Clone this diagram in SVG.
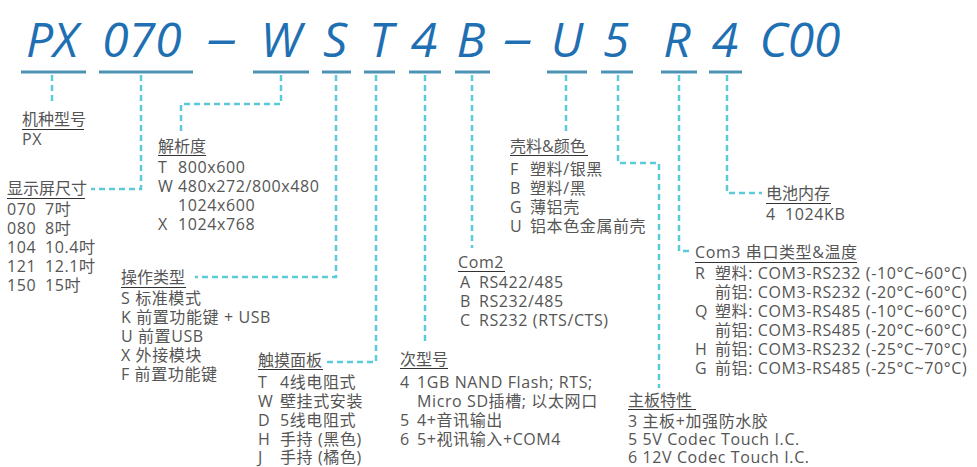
<svg xmlns="http://www.w3.org/2000/svg" width="977" height="467" viewBox="0 0 977 467">
<style>
.code{font-family:"Open Sans","Noto Sans",sans-serif;font-style:italic;font-size:48px;fill:#1f70b3;text-anchor:middle}
.ul{stroke:#4d93b6;stroke-width:3}
.dash{fill:none;stroke:#5ccbd9;stroke-width:2.5;stroke-dasharray:6 4}
.t{font-family:"Open Sans","Noto Sans","Noto Sans CJK SC",sans-serif;font-size:16px;letter-spacing:0.6px;fill:#555}
.t.lbl{letter-spacing:0}
.lu{stroke:#333;stroke-width:1}
</style>
<rect width="977" height="467" fill="#fff"/>
<g id="code">
<text class="code" x="52" y="57">PX</text>
<text class="code" x="142" y="57">070</text>
<text class="code" x="222" y="55" textLength="31" lengthAdjust="spacingAndGlyphs">–</text>
<text class="code" x="281" y="57">W</text>
<text class="code" x="335" y="57">S</text>
<text class="code" x="381" y="57">T</text>
<text class="code" x="424" y="57">4</text>
<text class="code" x="471" y="57">B</text>
<text class="code" x="518" y="55" textLength="30" lengthAdjust="spacingAndGlyphs">–</text>
<text class="code" x="567" y="57">U</text>
<text class="code" x="616" y="57">5</text>
<text class="code" x="677" y="57">R</text>
<text class="code" x="725" y="57">4</text>
<text class="code" x="800" y="57">C00</text>
<line class="ul" x1="21" y1="72" x2="86" y2="72"/>
<line class="ul" x1="99" y1="72" x2="193" y2="72"/>
<line class="ul" x1="253" y1="72" x2="309" y2="72"/>
<line class="ul" x1="322" y1="72" x2="351" y2="72"/>
<line class="ul" x1="364" y1="72" x2="395" y2="72"/>
<line class="ul" x1="409" y1="72" x2="441" y2="72"/>
<line class="ul" x1="455" y1="72" x2="490" y2="72"/>
<line class="ul" x1="547" y1="72" x2="587" y2="72"/>
<line class="ul" x1="601" y1="72" x2="633" y2="72"/>
<line class="ul" x1="661" y1="72" x2="697" y2="72"/>
<line class="ul" x1="709" y1="72" x2="742" y2="72"/>
</g>
<g id="connectors">
<path class="dash" d="M52 75V104"/>
<path class="dash" d="M141 75V189H91"/>
<path class="dash" d="M281 75V104H181V133"/>
<path class="dash" d="M336 75V277H195"/>
<path class="dash" d="M376 75V362H327"/>
<path class="dash" d="M425 75V345"/>
<path class="dash" d="M472 75V248"/>
<path class="dash" d="M566 75V132"/>
<path class="dash" d="M618 75V163H659V388"/>
<path class="dash" d="M679 75V251H690"/>
<path class="dash" d="M727 75V193H762"/>
</g>
<g id="n-px">
<text class="t lbl" x="22" y="125">机种型号</text>
<line class="lu" x1="22" y1="129.5" x2="84" y2="129.5"/>
<text class="t" x="22" y="145">PX</text>
</g>
<g id="n-size">
<text class="t lbl" x="7" y="194">显示屏尺寸</text>
<line class="lu" x1="7" y1="198.5" x2="85" y2="198.5"/>
<text class="t" x="7" y="215">070</text><text class="t" x="45" y="215">7吋</text>
<text class="t" x="7" y="234">080</text><text class="t" x="45" y="234">8吋</text>
<text class="t" x="7" y="253">104</text><text class="t" x="45" y="253">10.4吋</text>
<text class="t" x="7" y="272">121</text><text class="t" x="45" y="272">12.1吋</text>
<text class="t" x="7" y="291">150</text><text class="t" x="45" y="291">15吋</text>
</g>
<g id="n-res">
<text class="t lbl" x="158" y="152">解析度</text>
<line class="lu" x1="158" y1="155.5" x2="206" y2="155.5"/>
<text class="t" x="158" y="173">T</text><text class="t" x="178" y="173">800x600</text>
<text class="t" x="158" y="192">W</text><text class="t" x="178" y="192">480x272/800x480</text>
<text class="t" x="178" y="211">1024x600</text>
<text class="t" x="158" y="230">X</text><text class="t" x="178" y="230">1024x768</text>
</g>
<g id="n-op">
<text class="t lbl" x="121" y="283">操作类型</text>
<line class="lu" x1="121" y1="287.5" x2="186" y2="287.5"/>
<text class="t" x="121" y="304">S 标准模式</text>
<text class="t" x="121" y="323">K 前置功能键 + USB</text>
<text class="t" x="121" y="342">U 前置USB</text>
<text class="t" x="121" y="361">X 外接模块</text>
<text class="t" x="121" y="380">F 前置功能键</text>
</g>
<g id="n-touch">
<text class="t lbl" x="258" y="366">触摸面板</text>
<line class="lu" x1="258" y1="369.5" x2="323" y2="369.5"/>
<text class="t" x="258" y="388">T</text><text class="t" x="280" y="388">4线电阻式</text>
<text class="t" x="258" y="407">W</text><text class="t" x="280" y="407">壁挂式安装</text>
<text class="t" x="258" y="426">D</text><text class="t" x="280" y="426">5线电阻式</text>
<text class="t" x="258" y="445">H</text><text class="t" x="280" y="445">手持 (黑色)</text>
<text class="t" x="258" y="463">J</text><text class="t" x="280" y="463">手持 (橘色)</text>
</g>
<g id="n-sub">
<text class="t lbl" x="400" y="365">次型号</text>
<line class="lu" x1="400" y1="368.5" x2="448" y2="368.5"/>
<text class="t" x="400" y="388">4</text><text class="t" x="417" y="388">1GB NAND Flash; RTS;</text>
<text class="t" x="417" y="407">Micro SD插槽; 以太网口</text>
<text class="t" x="400" y="426">5</text><text class="t" x="417" y="426">4+音讯输出</text>
<text class="t" x="400" y="445">6</text><text class="t" x="417" y="445">5+视讯输入+COM4</text>
</g>
<g id="n-com2">
<text class="t" x="458" y="268">Com2</text>
<line class="lu" x1="458" y1="271.5" x2="505" y2="271.5"/>
<text class="t" x="460" y="288">A</text><text class="t" x="479" y="288">RS422/485</text>
<text class="t" x="460" y="307">B</text><text class="t" x="479" y="307">RS232/485</text>
<text class="t" x="460" y="326">C</text><text class="t" x="479" y="326">RS232 (RTS/CTS)</text>
</g>
<g id="n-shell">
<text class="t lbl" x="510" y="152">壳料&amp;颜色</text>
<line class="lu" x1="510" y1="155.5" x2="588" y2="155.5"/>
<text class="t" x="510" y="175">F</text><text class="t" x="530" y="175">塑料/银黑</text>
<text class="t" x="510" y="194">B</text><text class="t" x="530" y="194">塑料/黑</text>
<text class="t" x="510" y="213">G</text><text class="t" x="530" y="213">薄铝壳</text>
<text class="t" x="510" y="232">U</text><text class="t" x="530" y="232">铝本色金属前壳</text>
</g>
<g id="n-board">
<text class="t lbl" x="628" y="406">主板特性</text>
<line class="lu" x1="628" y1="409.5" x2="696" y2="409.5"/>
<text class="t" x="628" y="427">3 主板+加强防水胶</text>
<text class="t" x="628" y="445">5 5V Codec Touch I.C.</text>
<text class="t" x="628" y="463">6 12V Codec Touch I.C.</text>
</g>
<g id="n-com3">
<text class="t" x="695" y="258">Com3 串口类型&amp;温度</text>
<line class="lu" x1="695" y1="262.5" x2="857" y2="262.5"/>
<text class="t" x="695" y="279">R</text><text class="t" x="715" y="279">塑料: COM3-RS232 (-10°C~60°C)</text>
<text class="t" x="715" y="298">前铝: COM3-RS232 (-20°C~60°C)</text>
<text class="t" x="695" y="317">Q</text><text class="t" x="715" y="317">塑料: COM3-RS485 (-10°C~60°C)</text>
<text class="t" x="715" y="336">前铝: COM3-RS485 (-20°C~60°C)</text>
<text class="t" x="695" y="355">H</text><text class="t" x="715" y="355">前铝: COM3-RS232 (-25°C~70°C)</text>
<text class="t" x="695" y="374">G</text><text class="t" x="715" y="374">前铝: COM3-RS485 (-25°C~70°C)</text>
</g>
<g id="n-mem">
<text class="t lbl" x="766" y="199">电池内存</text>
<line class="lu" x1="766" y1="203.5" x2="831" y2="203.5"/>
<text class="t" x="766" y="220">4</text><text class="t" x="785" y="220">1024KB</text>
</g>
</svg>
